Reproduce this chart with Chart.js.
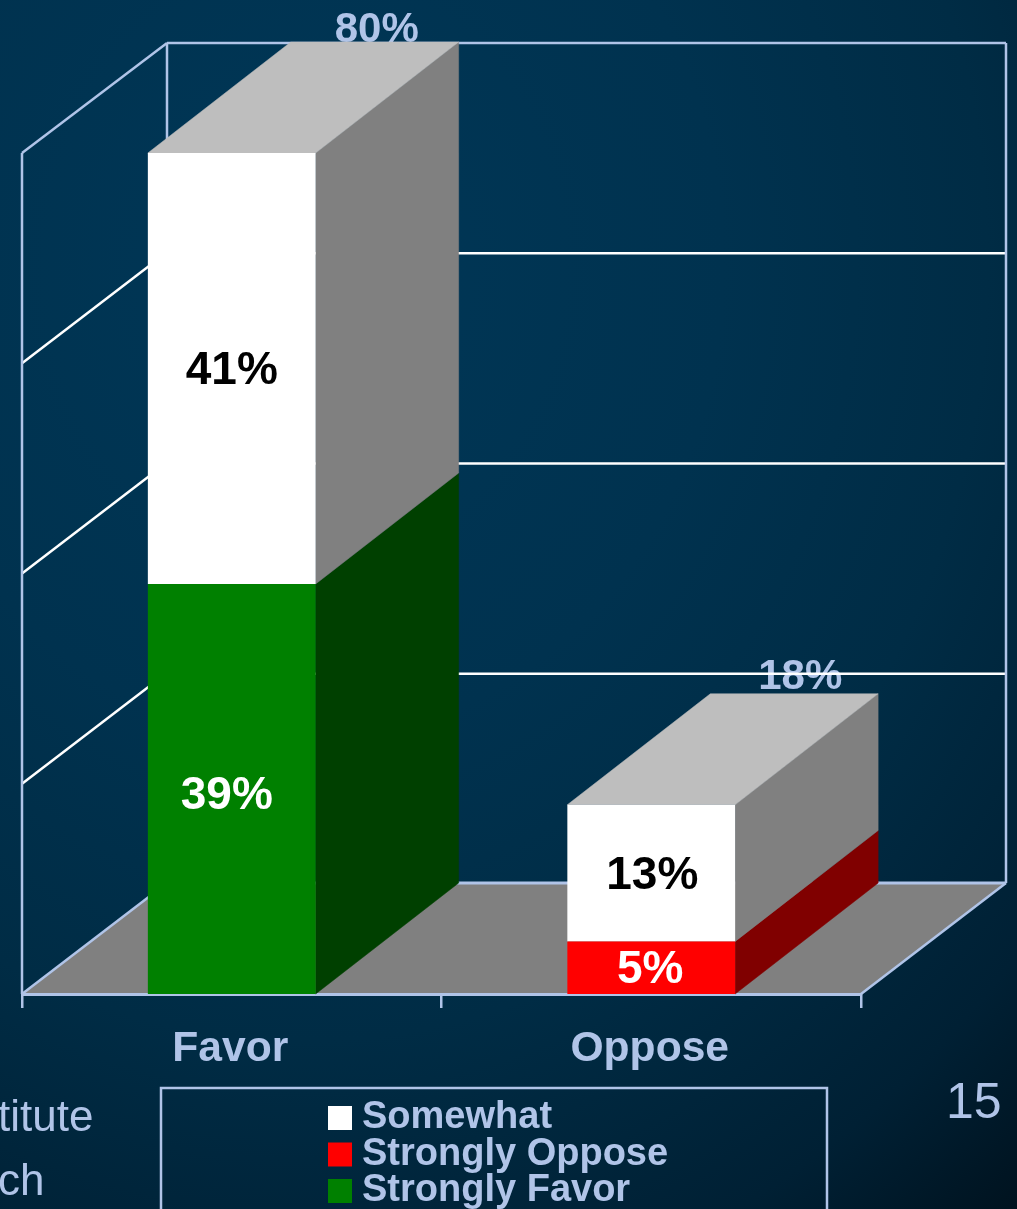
<!DOCTYPE html>
<html><head><meta charset="utf-8">
<script src="https://cdn.jsdelivr.net/npm/chart.js@4"></script>
<style>
html,body{margin:0;padding:0;width:1017px;height:1209px;overflow:hidden;background:radial-gradient(ellipse 1100px 1250px at 30% 22%,#003757 0%,#00324f 38%,#002c45 62%,#002034 85%,#00121e 100%);font-family:"Liberation Sans",sans-serif;}
canvas{position:absolute;left:0;top:0;}
.side{position:absolute;color:#b0c4e8;font-size:44px;line-height:1;white-space:pre;}
</style></head>
<body>
<canvas id="c" width="1017" height="1209"></canvas>
<div class="side" style="left:-2px;top:1094px">titute</div>
<div class="side" style="left:-2px;top:1158px">ch</div>
<div class="side" style="left:946px;top:1076px;font-size:50px">15</div>
<script>
const categories = ["Favor", "Oppose"];
const stronglyFavor = [39, null];
const stronglyOppose = [null, 5];
const somewhat = [41, 13];
const totals = ["80%", "18%"];
const yTicks = [0, 20, 40, 60, 80];

const ink = "#b0c4e8";
const wallDx = 145, wallDy = 111, barDx = 143;
const labelNudge = {"39%": [-5, 7], "13%": [1, 3], "5%": [-1, 3], "41%": [0, 3]};
const totalNudge = [[0, 0], [4, -5]];

function shade(hex, f) {
  const n = parseInt(hex.slice(1), 16);
  const c = [n >> 16, (n >> 8) & 255, n & 255].map(v => Math.round(v * f));
  return `rgb(${c[0]},${c[1]},${c[2]})`;
}
function poly(ctx, pts, fill) {
  ctx.beginPath();
  pts.forEach((p, i) => i ? ctx.lineTo(p[0], p[1]) : ctx.moveTo(p[0], p[1]));
  ctx.closePath();
  ctx.fillStyle = fill;
  ctx.fill();
  ctx.strokeStyle = fill;
  ctx.lineWidth = 0.5;
  ctx.stroke();
}
function line(ctx, a, b, color, w) {
  ctx.beginPath();
  ctx.moveTo(a[0], a[1]);
  ctx.lineTo(b[0], b[1]);
  ctx.strokeStyle = color;
  ctx.lineWidth = w;
  ctx.stroke();
}

const room = {
  id: "room",
  beforeDraw(chart) {
    const {ctx, chartArea: a, scales: {y}} = chart;
    const L = a.left, R = a.right, T = a.top, B = a.bottom;
    ctx.save();
    poly(ctx, [[L, B], [R, B], [R + wallDx, B - wallDy], [L + wallDx, B - wallDy]], "#808080");

    const bars = chart.getDatasetMeta(2).data;
    ctx.font = "bold 42px 'Liberation Sans'";
    ctx.fillStyle = ink;
    ctx.textAlign = "center";
    ctx.textBaseline = "alphabetic";
    bars.forEach((b, i) => ctx.fillText(totals[i], b.x + wallDx + totalNudge[i][0], b.y - wallDy + totalNudge[i][1]));

    yTicks.forEach(t => {
      const py = y.getPixelForValue(t);
      if (t > 0 && t < 80) {
        line(ctx, [L, py], [L + wallDx, py - wallDy], "#ffffff", 2.5);
        line(ctx, [L + wallDx, py - wallDy + 1], [R + wallDx, py - wallDy + 1], "#ffffff", 2.5);
      }
    });
    line(ctx, [L, T], [L + wallDx, T - wallDy + 1], ink, 2.5);
    line(ctx, [L + wallDx, T - wallDy + 1], [R + wallDx, T - wallDy + 1], ink, 2.5);
    line(ctx, [L, T], [L, B], ink, 2.5);
    line(ctx, [L + wallDx, T - wallDy + 1], [L + wallDx, B - wallDy], ink, 2.5);
    line(ctx, [R + wallDx, T - wallDy + 1], [R + wallDx, B - wallDy], ink, 2.5);
    line(ctx, [L + wallDx, B - wallDy], [R + wallDx, B - wallDy], ink, 3);
    line(ctx, [L, B], [L + wallDx, B - wallDy], ink, 2.5);
    line(ctx, [R, B], [R + wallDx, B - wallDy], ink, 2.5);

    // legend frame
    ctx.strokeStyle = ink;
    ctx.lineWidth = 2.5;
    ctx.strokeRect(161, 1088, 666, 140);
    ctx.restore();
  },
  beforeDatasetsDraw(chart) {
    const {ctx} = chart;
    ctx.save();
    chart.data.datasets.forEach((ds, di) => {
      chart.getDatasetMeta(di).data.forEach((b, i) => {
        if (ds.data[i] == null) return;
        const left = b.x - b.width / 2, right = b.x + b.width / 2;
        poly(ctx, [[right, b.y], [right + barDx, b.y - wallDy], [right + barDx, b.base - wallDy], [right, b.base]], shade(ds.backgroundColor, 0.5));
        if (di === 2) {
          poly(ctx, [[left, b.y], [left + barDx, b.y - wallDy], [right + barDx, b.y - wallDy], [right, b.y]], "#bebebe");
        }
      });
    });
    ctx.restore();
  },
  afterDatasetsDraw(chart) {
    const {ctx} = chart;
    ctx.save();
    ctx.font = "bold 46px 'Liberation Sans'";
    ctx.textAlign = "center";
    ctx.textBaseline = "middle";
    chart.data.datasets.forEach((ds, di) => {
      chart.getDatasetMeta(di).data.forEach((b, i) => {
        const v = ds.data[i];
        if (v == null) return;
        const s = v + "%";
        const n = labelNudge[s] || [0, 0];
        ctx.fillStyle = ds.labelColor;
        ctx.fillText(s, b.x + n[0], (b.y + b.base) / 2 + n[1]);
      });
    });
    ctx.restore();
  },
  afterLayout(chart) {
    const lg = chart.legend;
    lg.left = 338.5; lg.top = 1100.5; lg.right = 800; lg.bottom = 1400;
    lg.draw = function () { this._draw(); };
  }
};

new Chart(document.getElementById("c"), {
  type: "bar",
  data: {
    labels: categories,
    datasets: [
      {label: "Strongly Favor", data: stronglyFavor, backgroundColor: "#008000", labelColor: "#ffffff"},
      {label: "Strongly Oppose", data: stronglyOppose, backgroundColor: "#ff0000", labelColor: "#ffffff"},
      {label: "Somewhat", data: somewhat, backgroundColor: "#ffffff", labelColor: "#000000"}
    ]
  },
  options: {
    responsive: false,
    animation: false,
    layout: {padding: {left: 22, right: 156, top: 153, bottom: 0}},
    datasets: {bar: {categoryPercentage: 1, barPercentage: 0.4, borderWidth: 0}},
    plugins: {
      tooltip: {enabled: false},
      legend: {
        display: true,
        position: "chartArea",
        align: "start",
        reverse: true,
        labels: {
          boxWidth: 6, boxHeight: 6, padding: -1.5,
          color: ink,
          font: {family: "Liberation Sans", size: 38, weight: "bold", lineHeight: 1},
          generateLabels: chart => Chart.defaults.plugins.legend.labels.generateLabels(chart)
            .map(it => ({...it, strokeStyle: it.fillStyle, lineWidth: 18}))
        }
      }
    },
    scales: {
      x: {
        stacked: true,
        afterFit: s => { s.height = 215; },
        grid: {drawOnChartArea: false, drawTicks: true, tickLength: 14, color: ink, lineWidth: 2.5, offset: true},
        border: {color: ink, width: 3},
        ticks: {color: ink, padding: 16, labelOffset: -1.5, maxRotation: 0, font: {family: "Liberation Sans", size: 42.6, weight: "bold"}}
      },
      y: {
        stacked: true, display: false, min: 0, max: 80,
        afterBuildTicks: s => { s.ticks = yTicks.map(v => ({value: v})); }
      }
    }
  },
  plugins: [room]
});
</script>
</body></html>
